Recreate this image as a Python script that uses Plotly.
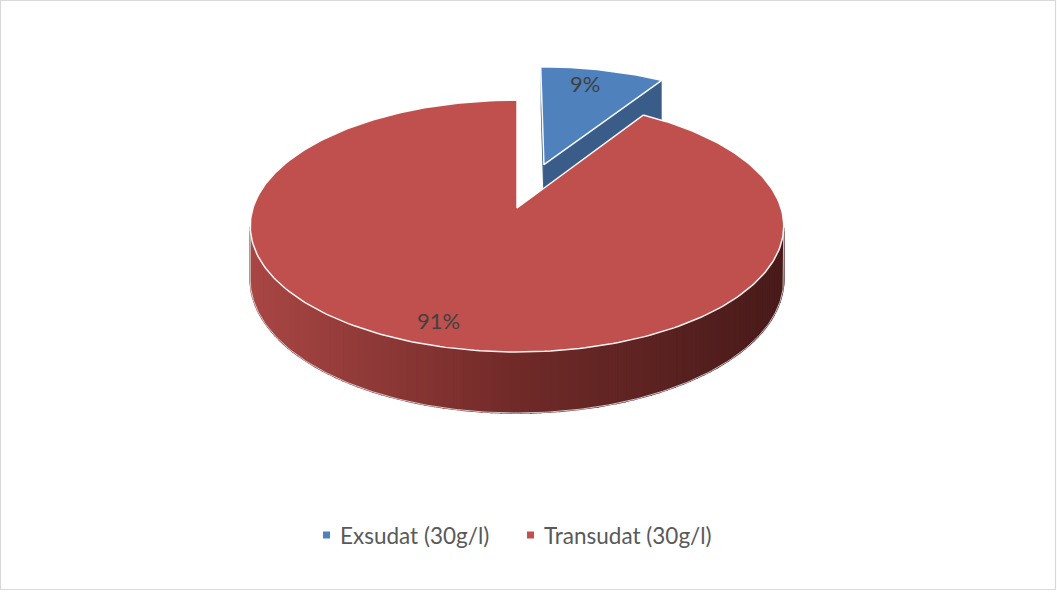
import numpy as np
import plotly.graph_objects as go

# ---- data -------------------------------------------------------------
categories = ["Exsudat (30g/l)", "Transudat (30g/l)"]
values = [9, 91]
explode = [0.385, 0.0]          # pulled-out distance, in pie radii

# ---- style ------------------------------------------------------------
top_colors = ["#4F81BD", "#C0504D"]
face_colors = ["#3A5C88", "#8E3735"]
wall_stops = [(0.0, (168, 70, 68)), (0.5, (112, 42, 40)), (1.0, (72, 27, 26))]
label_color = "#404040"
legend_color = "#595959"
FONT = "Lato, 'Open Sans', sans-serif"

W, H = 1057, 592

# projection of the tilted disc onto the page (pixel units)
CX, CY = 517.0, 208.0      # projected centre of the top face
RX = 264.0                 # horizontal radius
SY = 123.4                 # vertical scale of the tilted disc
K = 0.1429                 # perspective strength
DEPTH = 52.3               # thickness of the pie
LABEL_R = 0.84
LABEL_DX = -9.0


def proj(X, D, z=0.0):
    f = 1.0 / (1.0 + K * D)
    return CX + RX * X * f, CY + (-SY * D + z * DEPTH) * f


def wall_color(t):
    t = min(max(t, 0.0), 1.0)
    for (t0, c0), (t1, c1) in zip(wall_stops[:-1], wall_stops[1:]):
        if t <= t1:
            u = (t - t0) / (t1 - t0)
            c = [round(a + (b - a) * u) for a, b in zip(c0, c1)]
            return "rgb(%d,%d,%d)" % tuple(c)
    return "rgb(%d,%d,%d)" % wall_stops[-1][1]


def poly(fig, xs, ys, fill, line_color=None, line_width=0.0):
    xs = list(xs) + [xs[0]]
    ys = list(ys) + [ys[0]]
    fig.add_trace(go.Scatter(
        x=xs, y=ys, mode="lines", fill="toself", fillcolor=fill,
        line=dict(color=line_color or fill, width=line_width),
        hoverinfo="skip", showlegend=False))


total = float(sum(values))
bounds = np.concatenate([[0.0], np.cumsum(values)]) / total * 2 * np.pi
cam = np.array([0.0, -1.0 / K])     # camera position in the disc plane

slices = []
for i in range(len(values)):
    t0, t1 = bounds[i], bounds[i + 1]
    mid = 0.5 * (t0 + t1)
    ox, od = explode[i] * np.sin(mid), explode[i] * np.cos(mid)
    slices.append(dict(i=i, t0=t0, t1=t1, mid=mid, ox=ox, od=od))

# farthest slices are drawn first
slices.sort(key=lambda s: -(np.cos(s["mid"]) + s["od"]))

fig = go.Figure()
x_left, x_right = proj(-1.0, 0.0)[0], proj(1.0, 0.0)[0]

for s in slices:
    i, t0, t1, ox, od = s["i"], s["t0"], s["t1"], s["ox"], s["od"]
    to_cam = cam - np.array([ox, od])

    # radial faces
    for t, normal in ((t0, np.array([-np.cos(t0), np.sin(t0)])),
                      (t1, np.array([np.cos(t1), -np.sin(t1)]))):
        if np.dot(normal, to_cam) > 1e-6 and (t1 - t0) < 2 * np.pi - 1e-9:
            rx, rd = ox + np.sin(t), od + np.cos(t)
            pts = [proj(ox, od, 0), proj(rx, rd, 0), proj(rx, rd, 1), proj(ox, od, 1)]
            poly(fig, [p[0] for p in pts], [p[1] for p in pts], face_colors[i])

    # outer wall, split in thin strips for the shading
    th = np.linspace(t0, t1, 400)
    vis = -1.0 - ox * np.sin(th) - (1.0 / K + od) * np.cos(th) > 0
    if vis.any():
        tv = th[vis]
        edges = np.linspace(tv[0], tv[-1], 90)
        for a, b in zip(edges[:-1], edges[1:]):
            tt = np.linspace(a, b, 4)
            top = [proj(ox + np.sin(t), od + np.cos(t), 0) for t in tt]
            bot = [proj(ox + np.sin(t), od + np.cos(t), 1) for t in tt[::-1]]
            pts = top + bot
            xm = np.mean([p[0] for p in pts])
            c = wall_color((xm - x_left) / (x_right - x_left))
            poly(fig, [p[0] for p in pts], [p[1] for p in pts], c, c, 1.6)
        # light silhouette of the wall
        tt = np.linspace(tv[0], tv[-1], 200)
        outline = [proj(ox + np.sin(tv[0]), od + np.cos(tv[0]), 0)]
        outline += [proj(ox + np.sin(t), od + np.cos(t), 1) for t in tt]
        outline += [proj(ox + np.sin(tv[-1]), od + np.cos(tv[-1]), 0)]
        fig.add_trace(go.Scatter(
            x=[p[0] for p in outline], y=[p[1] for p in outline], mode="lines",
            line=dict(color="rgba(215,215,215,0.9)", width=1.0),
            hoverinfo="skip", showlegend=False))

    # top face
    tt = np.linspace(t0, t1, 300)
    pts = [proj(ox + np.sin(t), od + np.cos(t), 0) for t in tt]
    if (t1 - t0) < 2 * np.pi - 1e-9:
        pts.append(proj(ox, od, 0))
    poly(fig, [p[0] for p in pts], [p[1] for p in pts], top_colors[i],
         "rgba(255,255,255,0.95)", 1.5)

# percentage labels on the top faces
for s in sorted(slices, key=lambda s: s["i"]):
    i = s["i"]
    lx, ly = proj(s["ox"] + LABEL_R * np.sin(s["mid"]),
                  s["od"] + LABEL_R * np.cos(s["mid"]), 0)
    pct = f"{round(values[i] / total * 100)}%"
    fig.add_annotation(x=lx + LABEL_DX, y=ly, text=pct, showarrow=False,
                       font=dict(family=FONT, size=22, color=label_color),
                       xanchor="center", yanchor="middle")

# legend along the bottom
legend_key_x = [326.5, 530.5]
legend_y = 535
for i, name in enumerate(categories):
    fig.add_trace(go.Scatter(
        x=[legend_key_x[i]], y=[legend_y], mode="markers", name=name,
        marker=dict(symbol="square", size=7, color=top_colors[i]),
        hoverinfo="skip", showlegend=False))
    fig.add_annotation(x=legend_key_x[i] + 11.5, y=legend_y, text=name,
                       showarrow=False, xanchor="left", yanchor="middle",
                       font=dict(family=FONT, size=22.5, color=legend_color))

# chart-area frame
fig.add_shape(type="rect", x0=0.5, y0=0.5, x1=1055.5, y1=589.5,
              line=dict(color="#D9D9D9", width=1.2), layer="above")

fig.update_layout(
    width=W, height=H, autosize=False,
    margin=dict(l=0, r=0, t=0, b=0),
    paper_bgcolor="white", plot_bgcolor="white",
    xaxis=dict(range=[0, W], visible=False, fixedrange=True),
    yaxis=dict(range=[H, 0], visible=False, fixedrange=True),
    showlegend=False,
)

fig.write_html("out.html")
